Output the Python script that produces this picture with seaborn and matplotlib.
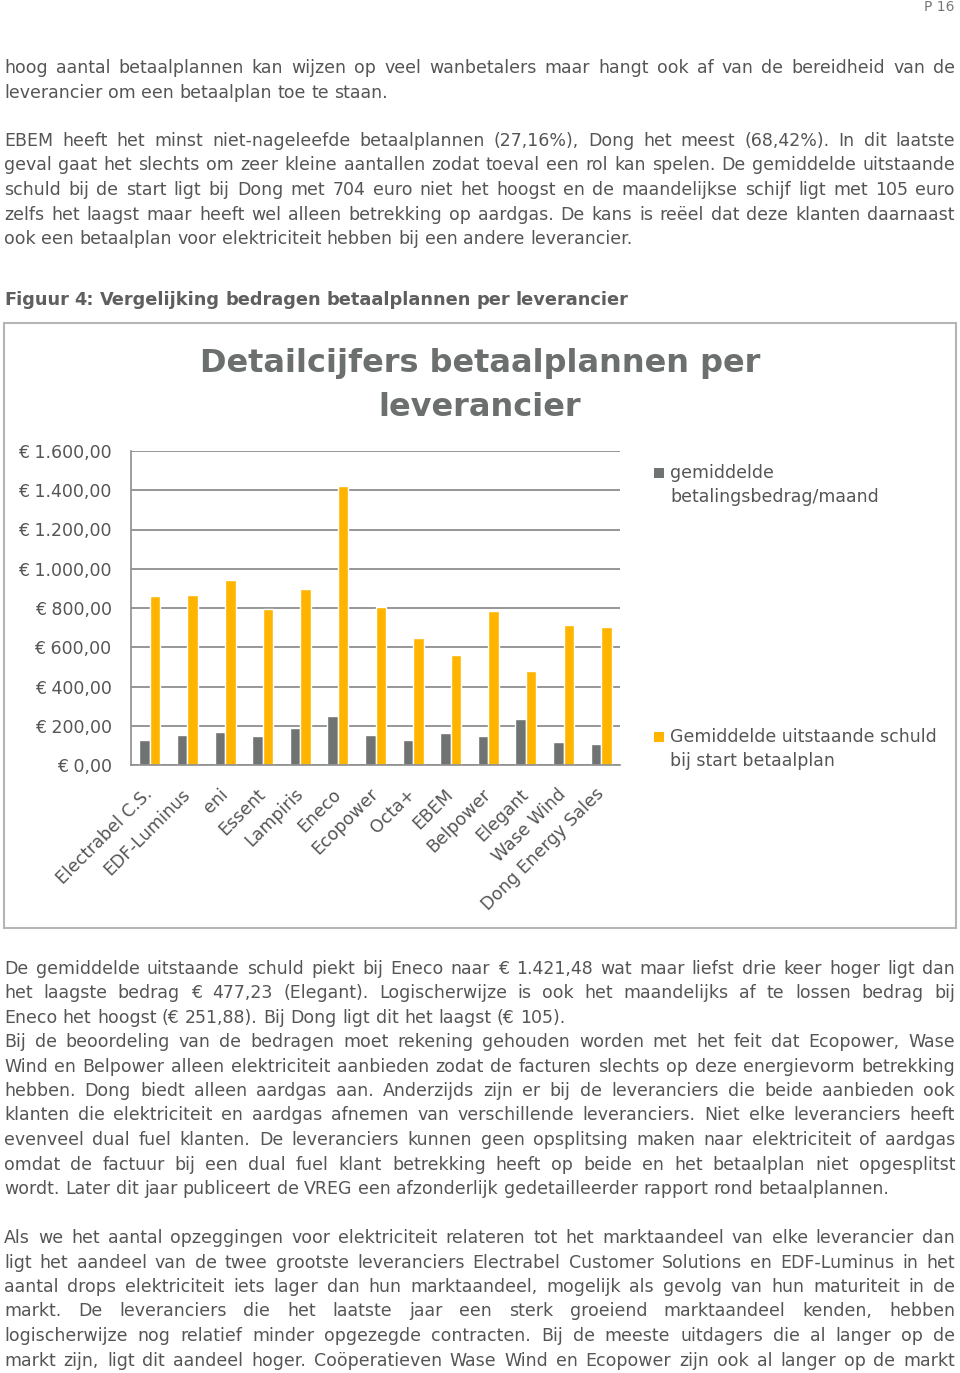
import numpy as np
import pandas as pd
import matplotlib
matplotlib.use("Agg")
import matplotlib.pyplot as plt
import seaborn as sns
from matplotlib.ticker import FuncFormatter
from matplotlib.patches import Rectangle

# chart data
suppliers = ["Electrabel C.S.", "EDF-Luminus", "eni", "Essent", "Lampiris", "Eneco",
             "Ecopower", "Octa+", "EBEM", "Belpower", "Elegant", "Wase Wind",
             "Dong Energy Sales"]
monthly_payment = [127, 153, 170, 146, 187, 251.88, 153, 129, 161, 148, 234, 115, 105]
outstanding_debt = [862, 868, 941, 794, 897, 1421.48, 806, 646, 558, 787, 477.23, 711, 704]
series_names = ["gemiddelde\nbetalingsbedrag/maand",
                "Gemiddelde uitstaande schuld\nbij start betaalplan"]
y_ticks = [0, 200, 400, 600, 800, 1000, 1200, 1400, 1600]

# page text
para1 = ["hoog aantal betaalplannen kan wijzen op veel wanbetalers maar hangt ook af van de bereidheid van de",
         "leverancier om een betaalplan toe te staan."]
para2 = ["EBEM heeft het minst niet-nageleefde betaalplannen (27,16%), Dong het meest (68,42%). In dit laatste",
         "geval gaat het slechts om zeer kleine aantallen zodat toeval een rol kan spelen. De gemiddelde uitstaande",
         "schuld bij de start ligt bij Dong met 704 euro niet het hoogst en de maandelijkse schijf ligt met 105 euro",
         "zelfs het laagst maar heeft wel alleen betrekking op aardgas. De kans is reëel dat deze klanten daarnaast",
         "ook een betaalplan voor elektriciteit hebben bij een andere leverancier."]
para3 = ["De gemiddelde uitstaande schuld piekt bij Eneco naar € 1.421,48 wat maar liefst drie keer hoger ligt dan",
         "het laagste bedrag € 477,23 (Elegant). Logischerwijze is ook het maandelijks af te lossen bedrag bij",
         "Eneco het hoogst (€ 251,88). Bij Dong ligt dit het laagst (€ 105)."]
para4 = ["Bij de beoordeling van de bedragen moet rekening gehouden worden met het feit dat Ecopower, Wase",
         "Wind en Belpower alleen elektriciteit aanbieden zodat de facturen slechts op deze energievorm betrekking",
         "hebben. Dong biedt alleen aardgas aan. Anderzijds zijn er bij de leveranciers die beide aanbieden ook",
         "klanten die elektriciteit en aardgas afnemen van verschillende leveranciers. Niet elke leveranciers heeft",
         "evenveel dual fuel klanten. De leveranciers kunnen geen opsplitsing maken naar elektriciteit of aardgas",
         "omdat de factuur bij een dual fuel klant betrekking heeft op beide en het betaalplan niet opgesplitst",
         "wordt. Later dit jaar publiceert de VREG een afzonderlijk gedetailleerder rapport rond betaalplannen."]
para5 = ["Als we het aantal opzeggingen voor elektriciteit relateren tot het marktaandeel van elke leverancier dan",
         "ligt het aandeel van de twee grootste leveranciers Electrabel Customer Solutions en EDF-Luminus in het",
         "aantal drops elektriciteit iets lager dan hun marktaandeel, mogelijk als gevolg van hun maturiteit in de",
         "markt. De leveranciers die het laatste jaar een sterk groeiend marktaandeel kenden, hebben",
         "logischerwijze nog relatief minder opgezegde contracten. Bij de meeste uitdagers die al langer op de",
         "markt zijn, ligt dit aandeel hoger. Coöperatieven Wase Wind en Ecopower zijn ook al langer op de markt"]

GREY = "#6f7371"
GOLD = "#ffb400"
TXT = "#555555"
GRID = "#8e8e8e"
W, H = 960, 1373
BODY = 12.5

sns.set_style("white")
plt.rcParams["font.family"] = ["DejaVu Sans"]

df = pd.DataFrame({
    "Leverancier": suppliers * 2,
    "Bedrag": monthly_payment + outstanding_debt,
    "Reeks": [series_names[0]] * len(suppliers) + [series_names[1]] * len(suppliers),
})

fig = plt.figure(figsize=(W / 100, H / 100), dpi=100)
renderer = fig.canvas.get_renderer()


def fy(y):
    return 1 - y / H


def put_line(y, line, justify, size=BODY, weight="normal", color=TXT, x0=4, x1=955):
    words = line.split(" ")
    texts = [fig.text(0, fy(y), w, fontsize=size, fontweight=weight, color=color,
                      ha="left", va="baseline") for w in words]
    widths = [t.get_window_extent(renderer).width for t in texts]
    gap = size * 100 / 72 * 0.318
    if justify and len(words) > 1:
        gap = max((x1 - x0 - sum(widths)) / (len(words) - 1), 2)
    x = x0
    for t, w in zip(texts, widths):
        t.set_x(x / W)
        x += w + gap


def put_para(lines, y_start, step=24.5, last_justified=False):
    for i, line in enumerate(lines):
        last = i == len(lines) - 1
        put_line(y_start + i * step, line, justify=(not last) or last_justified)


fig.text(955 / W, fy(7), "P 16", fontsize=10, color="#777777", ha="right", va="center")
put_para(para1, 73)
put_para(para2, 146)
put_line(305, "Figuur 4: Vergelijking bedragen betaalplannen per leverancier", False,
         size=12.8, weight="bold", color="#5f5f5f")
put_para(para3, 974)
put_para(para4, 1047)
put_para(para5, 1243, last_justified=True)

# chart frame
fig.patches.append(Rectangle((4 / W, fy(928)), 952 / W, 605 / H, transform=fig.transFigure,
                             fill=False, edgecolor="#b5b5b5", lw=1.5))
for (yb, line) in [(372, "Detailcijfers betaalplannen per"), (416, "leverancier")]:
    fig.text(480 / W, fy(yb), line, fontsize=23, fontweight="bold", color="#6b6f6d",
             ha="center", va="baseline")

ax = fig.add_axes([131 / W, fy(765), (620 - 131) / W, (765 - 451) / H])
sns.barplot(data=df, x="Leverancier", y="Bedrag", hue="Reeks", palette=[GREY, GOLD],
            width=0.56, saturation=1, legend=False, ax=ax)

ax.set_xlim(-0.5, len(suppliers) - 0.5)
ax.set_ylim(0, 1600)
ax.set_yticks(y_ticks)


def euro(v, pos):
    s = f"{v:,.2f}".replace(",", "X").replace(".", ",").replace("X", ".")
    return "€ " + s


ax.yaxis.set_major_formatter(FuncFormatter(euro))
ax.grid(axis="y", color=GRID, lw=1.3)
ax.set_axisbelow(True)
for s in ["top", "right"]:
    ax.spines[s].set_visible(False)
for s in ["left", "bottom"]:
    ax.spines[s].set_color(GRID)
    ax.spines[s].set_linewidth(1.2)
ax.set_xlabel("")
ax.set_ylabel("")
ax.tick_params(axis="y", length=5, width=1, color=GRID, labelsize=12.5, labelcolor=TXT, pad=9)
ax.set_xticks(np.arange(len(suppliers) + 1) - 0.5, minor=True)
ax.tick_params(axis="x", which="minor", length=5, width=1, color=GRID)
ax.tick_params(axis="x", which="major", length=0, labelsize=12.5, labelcolor=TXT, pad=19)
for lbl in ax.get_xticklabels():
    lbl.set_rotation(45)
    lbl.set_ha("right")
    lbl.set_va("center")
    lbl.set_rotation_mode("anchor")

# legend drawn by hand so the marker sits next to the first line
for (ys, color, name) in [(473, GREY, series_names[0]), (737, GOLD, series_names[1])]:
    fig.patches.append(Rectangle((654 / W, fy(ys + 5)), 10 / W, 10 / H, transform=fig.transFigure,
                                 color=color, lw=0))
    fig.text(670 / W, fy(ys - 9), name, fontsize=12.5, color=TXT, ha="left", va="top",
             linespacing=1.4)

fig.savefig("out.png", dpi=100)
